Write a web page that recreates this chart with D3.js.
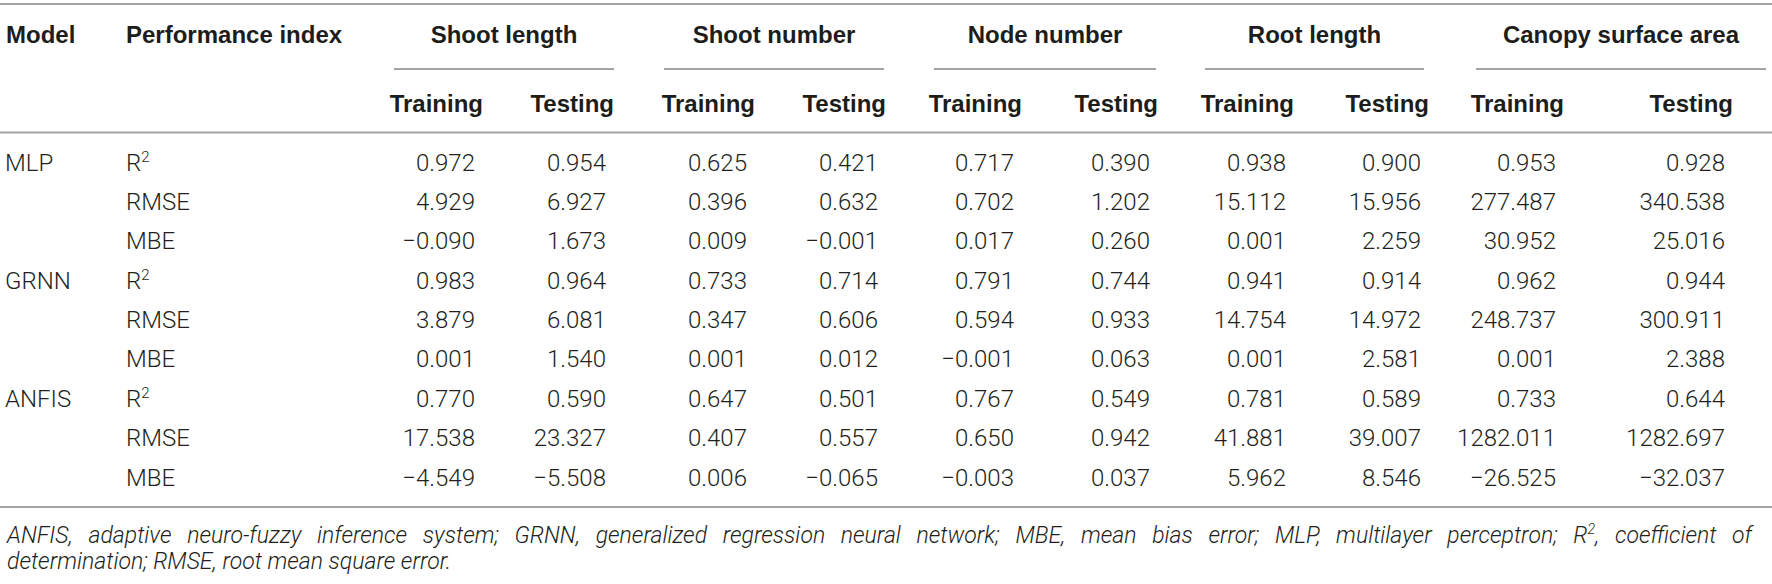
<!DOCTYPE html>
<html><head><meta charset="utf-8">
<script src="https://cdn.jsdelivr.net/npm/d3@7"></script>
<style>
html,body{margin:0;padding:0;background:#fff;}
svg{display:block;}
text{font-family:"Liberation Sans",Arial,Helvetica,sans-serif;}
text.light{font-family:Roboto,"Liberation Sans",Arial,sans-serif;font-weight:300;}
</style></head>
<body><svg id="chart" width="1772" height="584"></svg>
<script>
// ---- data ----
const groups = ["Shoot length","Shoot number","Node number","Root length","Canopy surface area"];
const phases = ["Training","Testing"];
const models = ["MLP","GRNN","ANFIS"];
const indices = ["R2","RMSE","MBE"];
const mlpValues = [
  [0.972,0.954,0.625,0.421,0.717,0.390,0.938,0.900,0.953,0.928],
  [4.929,6.927,0.396,0.632,0.702,1.202,15.112,15.956,277.487,340.538],
  [-0.090,1.673,0.009,-0.001,0.017,0.260,0.001,2.259,30.952,25.016]];
const grnnValues = [
  [0.983,0.964,0.733,0.714,0.791,0.744,0.941,0.914,0.962,0.944],
  [3.879,6.081,0.347,0.606,0.594,0.933,14.754,14.972,248.737,300.911],
  [0.001,1.540,0.001,0.012,-0.001,0.063,0.001,2.581,0.001,2.388]];
const anfisValues = [
  [0.770,0.590,0.647,0.501,0.767,0.549,0.781,0.589,0.733,0.644],
  [17.538,23.327,0.407,0.557,0.650,0.942,41.881,39.007,1282.011,1282.697],
  [-4.549,-5.508,0.006,-0.065,-0.003,0.037,5.962,8.546,-26.525,-32.037]];
const footLine1 = ["ANFIS, adaptive neuro-fuzzy inference system; GRNN, generalized regression neural network; MBE, mean bias error; MLP, multilayer perceptron; R", "2", ", coefficient of"];
const footLine2 = "determination; RMSE, root mean square error.";

// ---- layout ----
const W = 1772, H = 584;
const svg = d3.select("#chart").attr("viewBox", `0 0 ${W} ${H}`);
const valuesByModel = {MLP: mlpValues, GRNN: grnnValues, ANFIS: anfisValues};

const colKeys = d3.cross(groups, phases).map(([g, p]) => g + "|" + p);
const x = d3.scaleOrdinal().domain(colKeys)
  .range([475, 606, 747, 878, 1014, 1150, 1286, 1421, 1556, 1725]);
const span = d3.scaleOrdinal().domain(groups)
  .range([[394, 614], [664, 884], [934, 1156], [1205, 1424], [1476, 1766]]);
const rowKeys = d3.cross(models, indices).map(([m, i]) => m + "|" + i);
const y = d3.scalePoint().domain(rowKeys).range([162, 477]);

const FS = 24, CAP = 8.6;
const fmt = d3.format(".3f");
const ruleColor = "#a3a3a3", headColor = "#1d1d1b", bodyColor = "#231f20";

// rules
const rules = [{y: 4}, {y: 132.5}, {y: 507}];
svg.selectAll("line.rule").data(rules).join("line").attr("class", "rule")
  .attr("x1", 0).attr("x2", W).attr("y1", d => d.y).attr("y2", d => d.y)
  .attr("stroke", ruleColor).attr("stroke-width", 2);
svg.selectAll("line.sub").data(groups).join("line").attr("class", "sub")
  .attr("x1", g => span(g)[0]).attr("x2", g => span(g)[1])
  .attr("y1", 69).attr("y2", 69)
  .attr("stroke", ruleColor).attr("stroke-width", 2);

// header row 1
const h1 = 42.5, h2 = 112;
svg.append("text").attr("x", 6).attr("y", h1).text("Model")
  .attr("font-size", FS).attr("font-weight", "bold").attr("fill", headColor);
svg.append("text").attr("x", 126).attr("y", h1).text("Performance index")
  .attr("font-size", FS).attr("font-weight", "bold").attr("fill", headColor);
svg.selectAll("text.grp").data(groups).join("text").attr("class", "grp")
  .attr("x", g => (span(g)[0] + span(g)[1]) / 2).attr("y", h1)
  .attr("text-anchor", "middle").attr("font-size", FS).attr("font-weight", "bold")
  .attr("fill", headColor).text(g => g);

// header row 2
svg.selectAll("text.ph").data(colKeys).join("text").attr("class", "ph")
  .attr("x", k => x(k) + 8).attr("y", h2).attr("text-anchor", "end")
  .attr("font-size", FS).attr("font-weight", "bold").attr("fill", headColor)
  .text(k => k.split("|")[1]);

// model labels
svg.selectAll("text.model").data(models).join("text").attr("class", "model light")
  .attr("x", 5).attr("y", m => y(m + "|" + indices[0]) + CAP)
  .attr("font-size", FS).attr("fill", bodyColor).text(m => m);

// index labels
const idx = svg.selectAll("text.idx").data(rowKeys).join("text").attr("class", "idx light")
  .attr("x", 126).attr("y", k => y(k) + CAP)
  .attr("font-size", FS).attr("fill", bodyColor);
idx.each(function(k) {
  const name = k.split("|")[1];
  const t = d3.select(this);
  if (name === "R2") {
    t.append("tspan").text("R");
    t.append("tspan").attr("font-size", 15).attr("dy", -9).text("2");
  } else t.text(name);
});

// values
const cells = [];
models.forEach(m => indices.forEach((ind, i) => colKeys.forEach((c, j) => {
  cells.push({row: m + "|" + ind, col: c, v: valuesByModel[m][i][j]});
})));
svg.selectAll("text.val").data(cells).join("text").attr("class", "val light")
  .attr("x", d => x(d.col)).attr("y", d => y(d.row) + CAP)
  .attr("text-anchor", "end").attr("font-size", FS).attr("fill", bodyColor)
  .text(d => fmt(d.v));

// footnote
const FFS = 23;
const f1 = svg.append("text").attr("class", "light").attr("x", 7).attr("y", 543)
  .attr("font-size", FFS).attr("font-style", "italic").attr("fill", bodyColor);
f1.append("tspan").text(footLine1[0]);
f1.append("tspan").attr("font-size", 14).attr("dy", -9).text(footLine1[1]);
f1.append("tspan").attr("dy", 9).text(footLine1[2]);
const natural = f1.node().getComputedTextLength();
const nSpaces = (footLine1.join("").match(/ /g) || []).length;
const target = 1752 - 7;
f1.style("word-spacing", ((target - natural) / nSpaces) + "px");

svg.append("text").attr("class", "light").attr("x", 7).attr("y", 569)
  .attr("font-size", FFS).attr("font-style", "italic").attr("fill", bodyColor)
  .text(footLine2);
</script>
</body></html>
